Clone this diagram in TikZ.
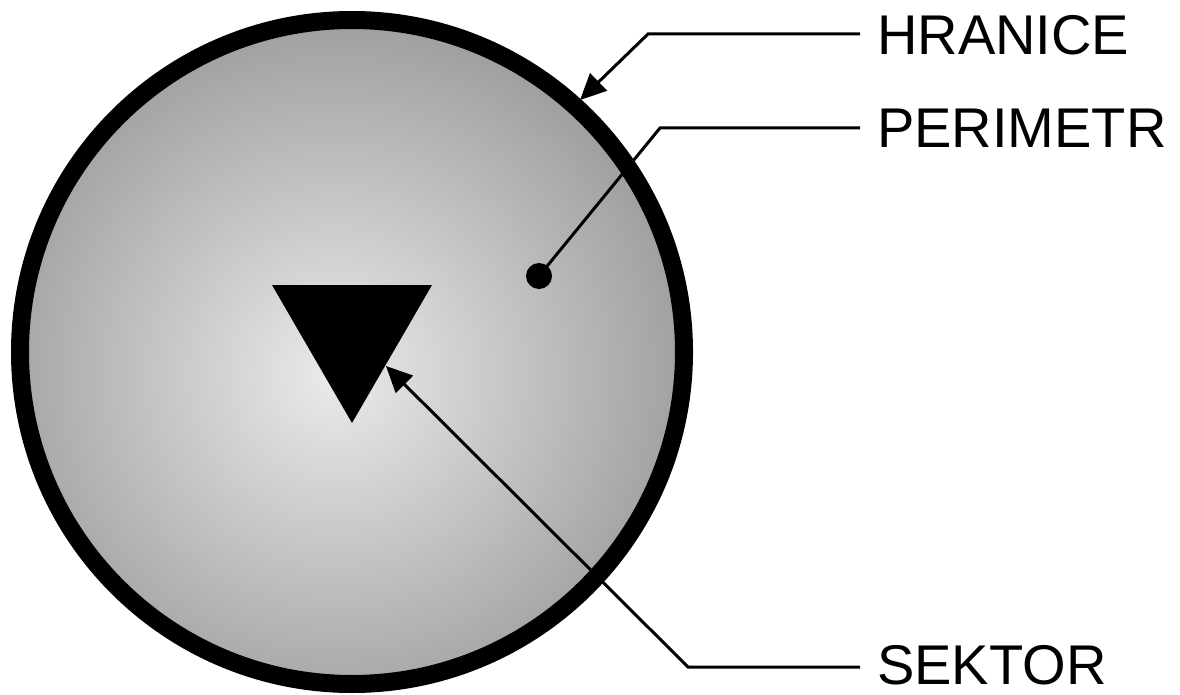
\documentclass[tikz,border=0pt]{standalone}
\usepackage{fontspec}
\setmainfont{Liberation Sans}
\usetikzlibrary{arrows.meta}
\tikzset{
  conn/.style={line width=3pt, draw=black},
  tipconn/.style={conn, -{Triangle[length=26pt,width=24pt]}},
  lbl/.style={inner sep=0pt, anchor=west, font=\fontsize{56}{66}\selectfont},
}
\begin{document}
\begin{tikzpicture}[x=1pt,y=-1pt]
\useasboundingbox (0,0) rectangle (1180,695);
% disc with radial gradient
\begin{scope}
  \clip (352,352) circle (332);
  \shade[inner color=black!8, outer color=black!40] (335,375) circle (385);
\end{scope}
\node[circle, draw=black, line width=18pt, minimum size=664pt, inner sep=0pt] (disc) at (352,352) {};
% triangle
\fill[black] (272,285) -- (432,285) -- (352,423) -- cycle;
\coordinate (tritip) at (386,366);
% dot
\node[circle, fill=black, minimum size=26pt, inner sep=0pt] (dot) at (539,276) {};
% labels
\node[lbl] (hr) at (877,35) {HRANICE};
\node[lbl] (pe) at (877,128) {PERIMETR};
\node[lbl] (se) at (877,665) {SEKTOR};
% bend points
\coordinate (hrb) at (648,34);
\coordinate (hrt) at (580,100);
\coordinate (peb) at (660,128);
\coordinate (seb) at (688,667);
% connectors
\draw[tipconn] ([xshift=-17pt]hr.west |- hrb) -- (hrb) -- (hrt);
\draw[conn] ([xshift=-17pt]pe.west) -- (peb) -- (dot.center);
\draw[tipconn] ([xshift=-17pt]se.west |- seb) -- (seb) -- (tritip);
\end{tikzpicture}
\end{document}
